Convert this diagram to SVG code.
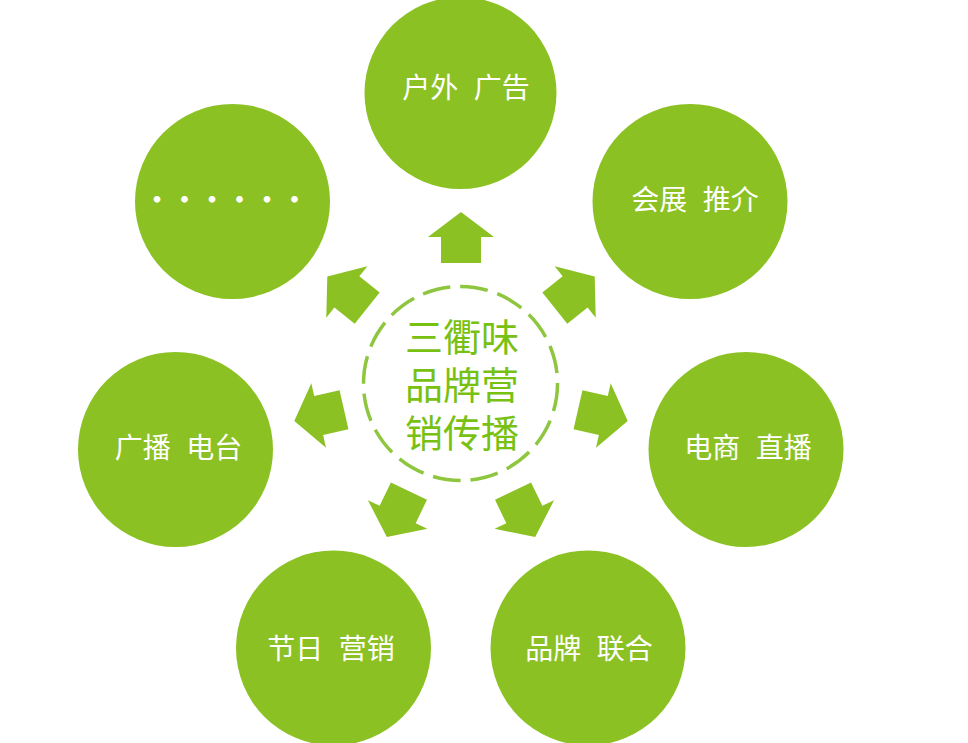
<svg xmlns="http://www.w3.org/2000/svg" width="968" height="743" viewBox="0 0 968 743">
<style>
.node{fill:#8bc123;}
.lbl{fill:#ffffff;font-family:"Noto Sans CJK SC","Noto Sans",sans-serif;font-size:28px;text-anchor:middle;word-spacing:9px;}
.arrow{fill:#8bc123;}
.core{fill:none;stroke:#8fc63f;stroke-width:3.5;stroke-dasharray:28 10;}
.coretxt{fill:#78c112;font-family:"Noto Sans CJK SC","Noto Sans",sans-serif;font-size:38px;text-anchor:middle;}
</style>
<defs>
<path id="arr" d="M0,-26 L33,-1 L20,-1 L20,25 L-20,25 L-20,-1 L-33,-1 Z"/>
</defs>
<rect width="968" height="743" fill="#ffffff"/>
<g id="connectors">
<use href="#arr" class="arrow" transform="rotate(0 461 383) translate(461 238)"/>
<use href="#arr" class="arrow" transform="rotate(51.43 461 383) translate(461 238)"/>
<use href="#arr" class="arrow" transform="rotate(102.86 461 383) translate(461 238)"/>
<use href="#arr" class="arrow" transform="rotate(154.29 461 383) translate(461 238)"/>
<use href="#arr" class="arrow" transform="rotate(205.71 461 383) translate(461 238)"/>
<use href="#arr" class="arrow" transform="rotate(257.14 461 383) translate(461 238)"/>
<use href="#arr" class="arrow" transform="rotate(308.57 461 383) translate(461 238)"/>
</g>
<g id="center">
<circle class="core" cx="460.5" cy="383.5" r="97"/>
<text class="coretxt" x="462" y="351"><tspan x="462" y="351">三衢味</tspan><tspan x="462" y="399">品牌营</tspan><tspan x="462" y="447">销传播</tspan></text>
</g>
<g id="node-outdoor">
<circle class="node" cx="460.5" cy="93" r="96"/>
<text class="lbl" x="466" y="98">户外 广告</text>
</g>
<g id="node-exhibition">
<circle class="node" cx="690" cy="201.5" r="97.5"/>
<text class="lbl" x="695" y="210">会展 推介</text>
</g>
<g id="node-ecommerce">
<circle class="node" cx="746" cy="449.5" r="97.5"/>
<text class="lbl" x="748" y="458">电商 直播</text>
</g>
<g id="node-brand">
<circle class="node" cx="588" cy="648" r="97.5"/>
<text class="lbl" x="589" y="659">品牌 联合</text>
</g>
<g id="node-festival">
<circle class="node" cx="333.5" cy="648" r="97.5"/>
<text class="lbl" x="331" y="659">节日 营销</text>
</g>
<g id="node-radio">
<circle class="node" cx="175.5" cy="449.5" r="97.5"/>
<text class="lbl" x="178.5" y="458">广播 电台</text>
</g>
<g id="node-more">
<circle class="node" cx="232.5" cy="201.5" r="97.5"/>
<text class="lbl" x="157 184.5 212 239.5 267 294.5" y="209" style="font-weight:bold;font-size:26px">······</text>
</g>
</svg>
